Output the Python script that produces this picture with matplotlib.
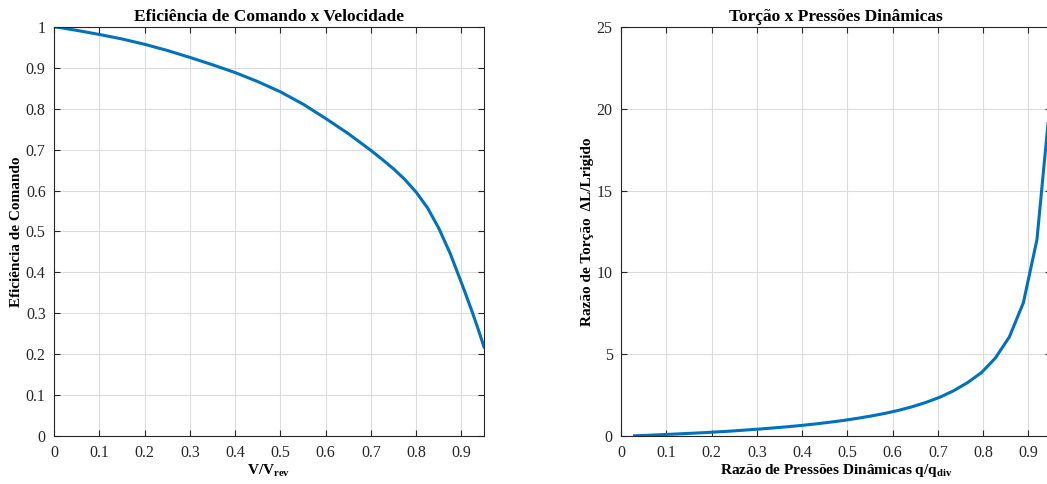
import matplotlib.pyplot as plt

plt.rcParams['font.family'] = ['Liberation Serif', 'DejaVu Serif']
plt.rcParams['mathtext.fontset'] = 'custom'
plt.rcParams['mathtext.rm'] = 'Liberation Serif'
plt.rcParams['mathtext.bf'] = 'Liberation Serif:bold'

# command efficiency vs speed ratio
v_ratio = [0.0, 0.05, 0.10, 0.15, 0.20, 0.25, 0.30, 0.35, 0.40, 0.45, 0.50,
           0.55, 0.60, 0.65, 0.70, 0.725, 0.75, 0.775, 0.80, 0.825, 0.85,
           0.875, 0.90, 0.9125, 0.925, 0.9375, 0.95]
efficiency = [1.0, 0.991, 0.981, 0.970, 0.957, 0.942, 0.925, 0.907, 0.888,
              0.866, 0.841, 0.811, 0.776, 0.739, 0.698, 0.676, 0.653, 0.627,
              0.596, 0.558, 0.508, 0.447, 0.375, 0.338, 0.300, 0.260, 0.218]

# twist ratio vs dynamic pressure ratio
q_ratio = [0.030, 0.061, 0.091, 0.122, 0.153, 0.183, 0.214, 0.245, 0.275,
           0.306, 0.337, 0.367, 0.398, 0.429, 0.459, 0.490, 0.521, 0.551,
           0.582, 0.613, 0.643, 0.674, 0.705, 0.735, 0.766, 0.797, 0.827,
           0.858, 0.889, 0.919, 0.950]
twist = [0.03, 0.06, 0.10, 0.14, 0.18, 0.22, 0.27, 0.32, 0.38, 0.44, 0.51,
         0.58, 0.66, 0.75, 0.85, 0.96, 1.09, 1.23, 1.39, 1.58, 1.80, 2.07,
         2.39, 2.78, 3.28, 3.90, 4.77, 6.06, 8.15, 12.0, 21.0]

blue = '#0072BD'
tick_col = '#262626'

fig = plt.figure(figsize=(10.47, 4.84), dpi=100)
ax1 = fig.add_axes([0.0516, 0.0986, 0.4107, 0.8463])
ax2 = fig.add_axes([0.5931, 0.0986, 0.4107, 0.8463])


def style(ax):
    ax.grid(True, color='#dcdcdc', linewidth=0.8)
    ax.set_axisbelow(True)
    ax.tick_params(direction='in', top=True, right=True, length=4,
                   labelsize=11.5, colors=tick_col, pad=6)
    for s in ax.spines.values():
        s.set_color(tick_col)
        s.set_linewidth(0.8)


ax1.plot(v_ratio, efficiency, color=blue, linewidth=2.2)
ax1.set_xlim(0, 0.95)
ax1.set_ylim(0, 1)
ax1.set_xticks([0, 0.1, 0.2, 0.3, 0.4, 0.5, 0.6, 0.7, 0.8, 0.9])
ax1.set_xticklabels(['0', '0.1', '0.2', '0.3', '0.4', '0.5', '0.6', '0.7', '0.8', '0.9'])
ax1.set_yticks([0, 0.1, 0.2, 0.3, 0.4, 0.5, 0.6, 0.7, 0.8, 0.9, 1])
ax1.set_yticklabels(['0', '0.1', '0.2', '0.3', '0.4', '0.5', '0.6', '0.7', '0.8', '0.9', '1'])
ax1.set_title('Eficiência de Comando x Velocidade', fontsize=12.5, fontweight='bold', pad=4)
ax1.set_xlabel(r'V/V$_\mathbf{rev}$', fontsize=11, fontweight='bold', labelpad=1)
ax1.set_ylabel('Eficiência de Comando', fontsize=11, fontweight='bold', labelpad=2)
style(ax1)

ax2.plot(q_ratio, twist, color=blue, linewidth=2.2)
ax2.set_xlim(0, 0.95)
ax2.set_ylim(0, 25)
ax2.set_xticks([0, 0.1, 0.2, 0.3, 0.4, 0.5, 0.6, 0.7, 0.8, 0.9])
ax2.set_xticklabels(['0', '0.1', '0.2', '0.3', '0.4', '0.5', '0.6', '0.7', '0.8', '0.9'])
ax2.set_yticks([0, 5, 10, 15, 20, 25])
ax2.set_title('Torção x Pressões Dinâmicas', fontsize=12.5, fontweight='bold', pad=4)
ax2.set_xlabel(r'Razão de Pressões Dinâmicas q/q$_\mathbf{div}$', fontsize=11,
               fontweight='bold', labelpad=1)
ax2.set_ylabel('Razão de Torção  ΔL/Lrigido', fontsize=11, fontweight='bold', labelpad=2)
style(ax2)

fig.savefig('out.png', dpi=100)
